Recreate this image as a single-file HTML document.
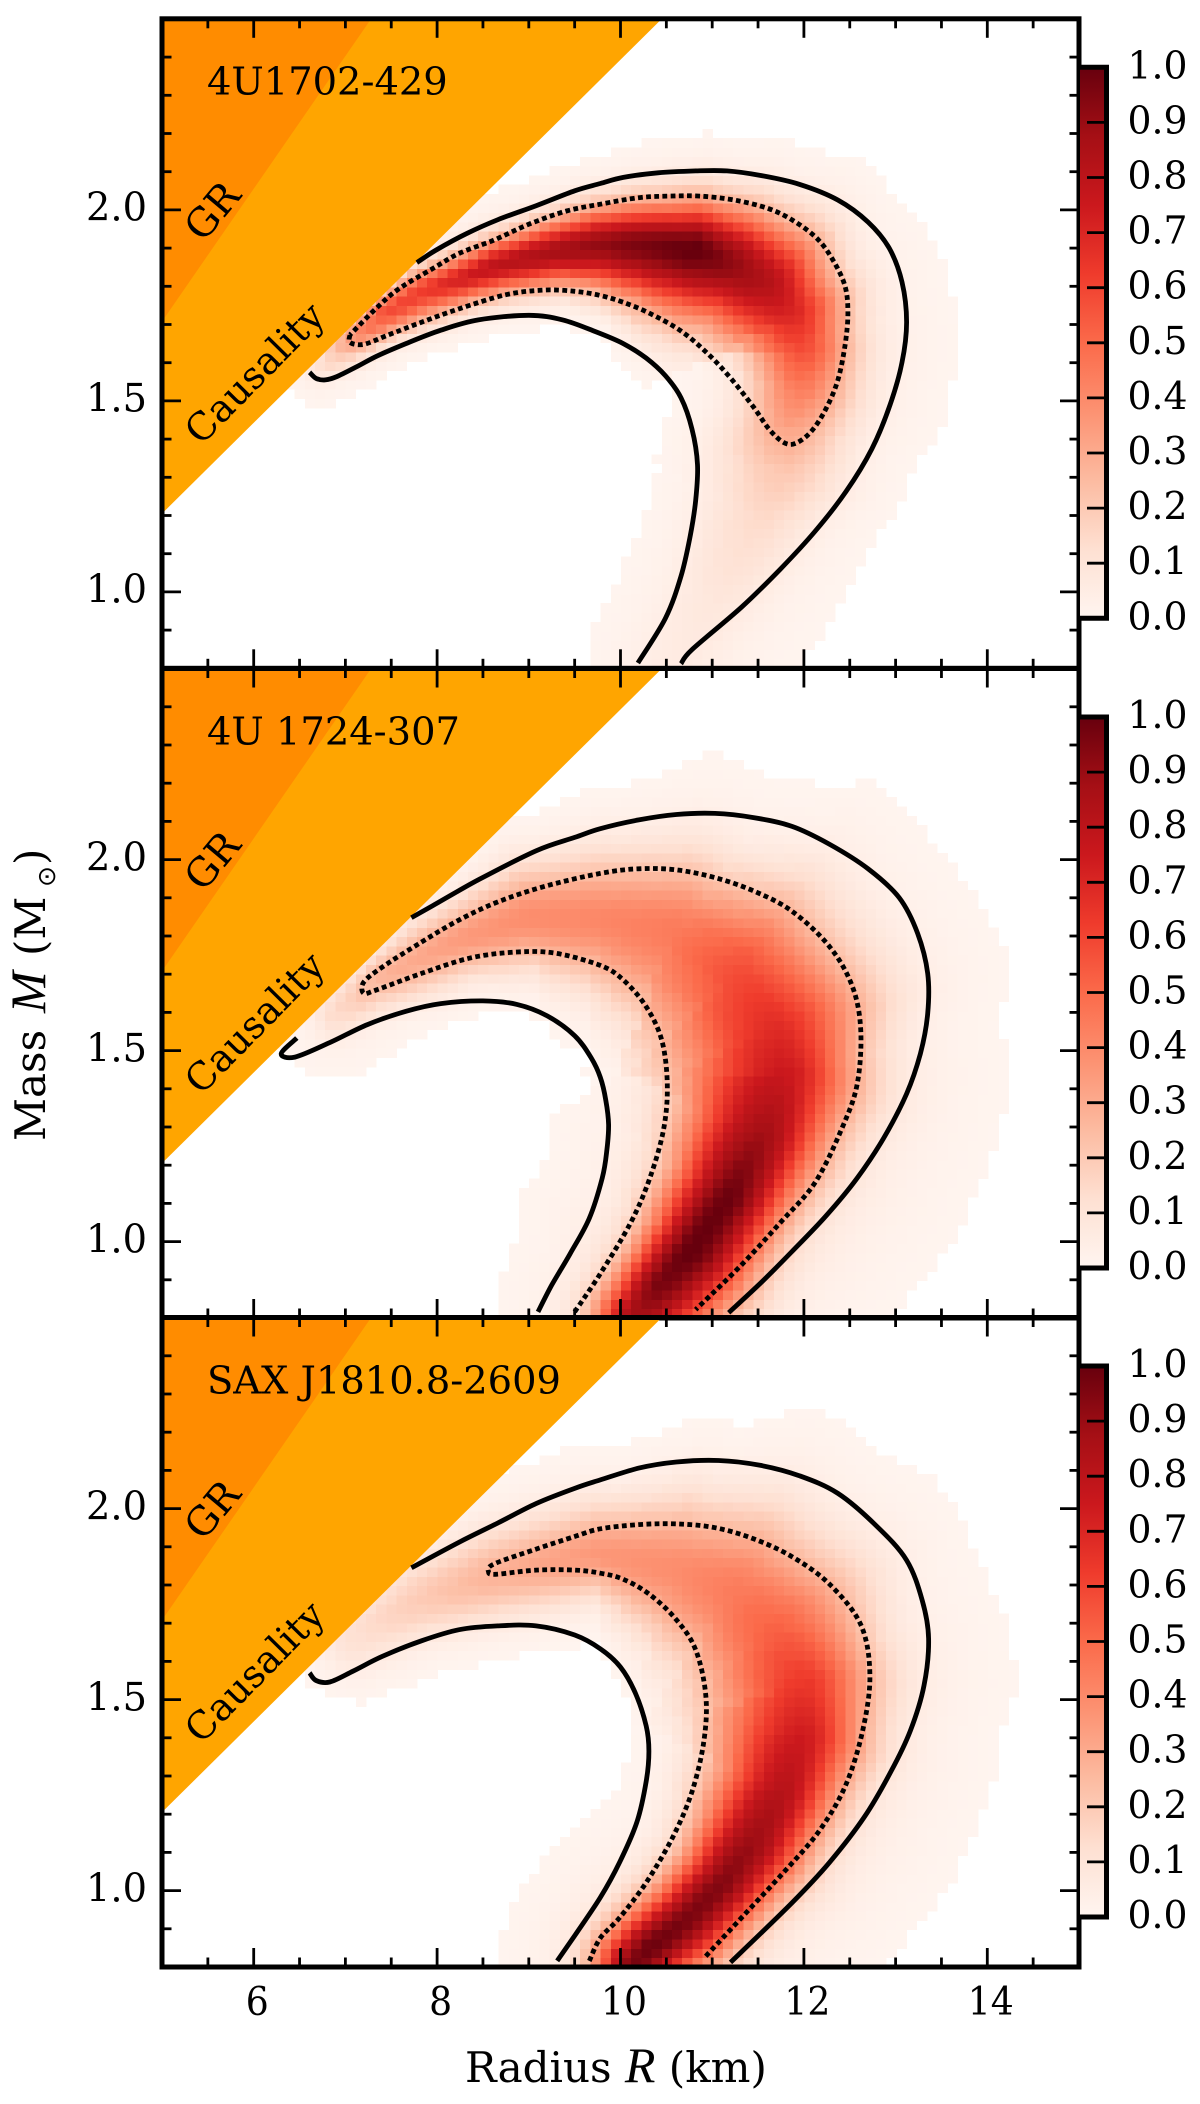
<!DOCTYPE html>
<html lang="en">
<head>
<meta charset="utf-8">
<title>Neutron star mass-radius posteriors</title>
<style>
html,body{margin:0;padding:0;background:#fff;}
svg{display:block;}
text{font-family:"DejaVu Serif","Liberation Serif",serif;fill:#000;}
</style>
</head>
<body>
<svg id="chart" xmlns="http://www.w3.org/2000/svg" width="1200" height="2104" viewBox="0 0 1200 2104">
<defs>
<linearGradient id="redsGradient" x1="0" y1="1" x2="0" y2="0">
<stop offset="0" stop-color="#fff5f0"/>
<stop offset="0.125" stop-color="#fee0d2"/>
<stop offset="0.25" stop-color="#fcbba1"/>
<stop offset="0.375" stop-color="#fc9272"/>
<stop offset="0.5" stop-color="#fb6a4a"/>
<stop offset="0.625" stop-color="#ef3b2c"/>
<stop offset="0.75" stop-color="#cb181d"/>
<stop offset="0.875" stop-color="#a50f15"/>
<stop offset="1" stop-color="#67000d"/>
</linearGradient>
</defs>
<text transform="translate(45,1141) rotate(-90)" font-size="42">Mass<tspan x="128" font-family="Liberation Serif" font-style="italic" font-size="50">M</tspan><tspan x="185">(M</tspan><tspan x="254" font-family="DejaVu Sans" font-size="25" dy="10">⊙</tspan><tspan x="276" dy="-10">)</tspan></text>
<text x="465" y="2082" font-size="42">Radius <tspan font-family="Liberation Serif" font-style="italic" font-size="50">R</tspan> (km)</text>
</svg>
<script>
// ---- shared axis data ----
const panelNames = ["4U1702-429", "4U 1724-307", "SAX J1810.8-2609"];
const radiusMajorTicks = [6, 8, 10, 12, 14];
const radiusMinorTicks = [5.5, 6.5, 7, 7.5, 8.5, 9, 9.5, 10.5, 11, 11.5, 12.5, 13, 13.5, 14.5];
const massMajorTicks = [1.0, 1.5, 2.0];
const massMinorTicks = [0.9, 1.1, 1.2, 1.3, 1.4, 1.6, 1.7, 1.8, 1.9, 2.1, 2.2, 2.3, 2.4];
const colorbarTicks = [0.0, 0.1, 0.2, 0.3, 0.4, 0.5, 0.6, 0.7, 0.8, 0.9, 1.0];
const causalityR = [5, 10.45];
const causalityM = [1.205, 2.5];
const grLimitR = [5, 7.28];
const grLimitM = [1.708, 2.5];

// ---- 4U 1702-429 ----
const p1SolidLowerR = [6.61,6.68,6.78,6.91,7.12,7.35,7.66,8.04,8.45,9.0,9.37,9.72,10.03,10.28,10.49,10.66,10.78,10.84,10.82,10.76,10.66,10.49,10.19];
const p1SolidLowerM = [1.575,1.559,1.555,1.564,1.589,1.618,1.650,1.685,1.712,1.724,1.712,1.682,1.650,1.612,1.566,1.508,1.426,1.333,1.240,1.146,1.041,.931,.814];
const p1SolidUpperR = [7.78,7.99,8.33,8.66,9.08,9.50,9.78,10.03,10.41,10.82,11.16,11.53,11.95,12.37,12.70,12.93,13.07,13.12,13.07,12.94,12.74,12.46,12.12,11.74,11.32,10.78,10.66];
const p1SolidUpperM = [1.862,1.895,1.939,1.974,2.011,2.050,2.069,2.085,2.097,2.102,2.102,2.090,2.067,2.026,1.968,1.900,1.811,1.706,1.601,1.490,1.374,1.263,1.158,1.059,.960,.849,.812];
const p1DottedR = [7.05,7.05,7.20,7.45,7.83,8.24,8.75,9.16,9.50,9.78,10.03,10.32,10.66,10.95,11.20,11.45,11.62,11.78,11.91,12.08,12.24,12.37,12.45,12.48,12.45,12.33,12.16,11.91,11.62,11.24,10.87,10.53,10.20,9.78,9.41,8.996,8.62,8.24,7.95,7.58,7.33,7.05];
const p1DottedM = [1.673,1.653,1.648,1.671,1.706,1.741,1.778,1.790,1.787,1.776,1.758,1.729,1.683,1.624,1.560,1.484,1.426,1.391,1.389,1.420,1.479,1.554,1.648,1.729,1.799,1.863,1.921,1.968,2.003,2.026,2.036,2.036,2.032,2.015,1.997,1.962,1.921,1.886,1.846,1.793,1.741,1.673];
const p1RidgeR = [6.75,7.41,7.83,8.24,8.66,9.29,9.78,10.2,10.82,11.24,11.62,11.87,11.99,11.95,11.83,11.74,11.55,11.0,10.6];
const p1RidgeM = [1.6,1.729,1.787,1.82,1.857,1.892,1.91,1.91,1.898,1.857,1.80,1.73,1.636,1.54,1.44,1.32,1.2,.97,.82];
const p1RidgePeak = [.1,.55,.6,.7,.78,.85,.9,.95,1,.9,.8,.68,.55,.42,.3,.18,.12,.06,.04];
const p1RidgeOuterKm = [.12,.11,.14,.15,.17,.21,.25,.28,.33,.39,.44,.37,.33,.35,.36,.40,.30,.27,.27];
const p1RidgeInnerKm = [.12,.16,.20,.18,.20,.23,.32,.41,.52,.46,.49,.48,.41,.33,.33,.47,.43,.33,.33];
const p1RidgeHaloKm = [.28,.29,.31,.33,.33,.33,.36,.43,.47,.55,.66,.72,.73,.7,.67,.6,.6,.65,.6];

// ---- 4U 1724-307 ----
const p2SolidLowerR = [6.47,6.30,6.45,6.83,7.24,7.66,8.04,8.50,8.87,9.20,9.50,9.68,9.78,9.84,9.87,9.85,9.80,9.66,9.45,9.25,9.10];
const p2SolidLowerM = [1.533,1.492,1.483,1.521,1.568,1.603,1.623,1.630,1.621,1.591,1.539,1.481,1.430,1.370,1.306,1.236,1.166,1.061,.968,.886,.816];
const p2SolidUpperR = [7.72,7.95,8.45,9.08,9.50,9.78,10.2,10.61,11.03,11.45,11.87,12.28,12.70,13.04,13.24,13.35,13.35,13.27,13.12,12.87,12.58,12.24,11.87,11.53,11.18];
const p2SolidUpperM = [1.848,1.879,1.947,2.023,2.058,2.081,2.104,2.118,2.121,2.110,2.087,2.040,1.976,1.900,1.807,1.702,1.597,1.492,1.387,1.271,1.166,1.067,.974,.892,.814];
const p2DottedR = [9.50,9.78,10.11,10.32,10.47,10.51,10.45,10.28,10.03,9.78,9.29,8.87,8.37,7.83,7.33,7.20,7.20,7.41,7.83,8.24,8.66,9.16,9.78,10.2,10.61,11.03,11.45,11.87,12.28,12.53,12.62,12.58,12.41,12.12,11.74,11.32,10.82];
const p2DottedM = [.816,.916,1.049,1.166,1.294,1.411,1.527,1.615,1.685,1.723,1.755,1.758,1.743,1.702,1.658,1.650,1.679,1.720,1.784,1.842,1.889,1.929,1.964,1.976,1.973,1.953,1.918,1.865,1.772,1.667,1.551,1.411,1.294,1.154,1.049,.939,.822];
const p2RidgeR = [6.9,7.41,7.83,8.24,9.0,9.78,10.61,11.24,11.66,11.78,11.57,11.2,10.78,10.41,10.16];
const p2RidgeM = [1.6,1.70,1.745,1.79,1.85,1.845,1.81,1.70,1.551,1.434,1.282,1.12,.98,.886,.805];
const p2RidgePeak = [.12,.25,.28,.32,.36,.38,.42,.55,.66,.74,.86,.98,1,.95,.85];
const p2RidgeOuterKm = [.13,.13,.22,.24,.35,.43,.5,.65,.63,.49,.41,.37,.42,.42,.38];
const p2RidgeInnerKm = [.15,.22,.24,.24,.35,.46,.71,.73,.76,.78,.57,.42,.34,.27,.27];
const p2RidgeHaloKm = [.36,.33,.33,.33,.41,.57,.84,1.08,1.1,1.0,.97,.9,.8,.73,.62];

// ---- SAX J1810.8-2609 ----
const p3SolidLowerR = [6.61,6.68,6.83,7.08,7.41,7.83,8.24,8.66,9.08,9.50,9.78,10.0,10.16,10.28,10.31,10.28,10.18,9.99,9.78,9.50,9.31];
const p3SolidLowerM = [1.570,1.550,1.546,1.574,1.614,1.654,1.683,1.693,1.693,1.669,1.633,1.585,1.518,1.431,1.365,1.286,1.180,1.074,.982,.882,.816];
const p3SolidUpperR = [7.72,8.24,8.66,9.08,9.50,9.78,10.2,10.61,11.07,11.53,11.95,12.37,12.79,13.12,13.29,13.36,13.31,13.16,12.95,12.66,12.28,11.87,11.2];
const p3SolidUpperM = [1.845,1.912,1.962,2.013,2.053,2.075,2.106,2.122,2.126,2.113,2.086,2.040,1.955,1.865,1.760,1.660,1.537,1.418,1.312,1.193,1.074,.968,.812];
const p3DottedR = [9.66,9.78,9.99,10.28,10.57,10.78,10.91,10.93,10.82,10.61,10.32,10.03,9.78,9.50,9.08,8.64,8.56,8.62,9.08,9.50,9.78,10.2,10.61,11.03,11.45,11.87,12.28,12.62,12.72,12.64,12.45,12.16,11.78,11.37,10.91];
const p3DottedM = [.816,.876,.929,1.021,1.140,1.259,1.392,1.511,1.630,1.709,1.775,1.815,1.831,1.839,1.839,1.828,1.835,1.855,1.894,1.927,1.947,1.958,1.960,1.950,1.921,1.874,1.802,1.696,1.564,1.418,1.273,1.154,1.048,.942,.823];
const p3RidgeR = [7.12,7.83,8.66,9.78,10.61,11.24,11.66,11.99,11.99,11.78,11.45,11.12,10.74,10.32,10.16];
const p3RidgeM = [1.67,1.762,1.828,1.881,1.841,1.775,1.67,1.537,1.405,1.26,1.127,1.021,.929,.85,.81];
const p3RidgePeak = [.1,.17,.25,.33,.36,.42,.5,.62,.72,.8,.88,.93,.95,.98,.95];
const p3RidgeOuterKm = [.22,.27,.30,.33,.5,.6,.63,.47,.41,.35,.36,.32,.32,.29,.29];
const p3RidgeInnerKm = [.24,.27,.28,.26,.54,.6,.67,.67,.67,.5,.41,.32,.29,.27,.27];
const p3RidgeHaloKm = [.42,.38,.46,.5,.68,.92,1.0,.97,.88,.85,.81,.77,.78,.78,.75];

const panels = [
 {bottom:668.3, innerHalo:.85, solidA:[p1SolidLowerR,p1SolidLowerM], solidB:[p1SolidUpperR,p1SolidUpperM], dotted:[p1DottedR,p1DottedM], ridge:[p1RidgeR,p1RidgeM,p1RidgePeak,p1RidgeOuterKm,p1RidgeInnerKm,p1RidgeHaloKm]},
 {bottom:1318, innerHalo:1, solidA:[p2SolidLowerR,p2SolidLowerM], solidB:[p2SolidUpperR,p2SolidUpperM], dotted:[p2DottedR,p2DottedM], ridge:[p2RidgeR,p2RidgeM,p2RidgePeak,p2RidgeOuterKm,p2RidgeInnerKm,p2RidgeHaloKm]},
 {bottom:1967, innerHalo:.8, solidA:[p3SolidLowerR,p3SolidLowerM], solidB:[p3SolidUpperR,p3SolidUpperM], dotted:[p3DottedR,p3DottedM], ridge:[p3RidgeR,p3RidgeM,p3RidgePeak,p3RidgeOuterKm,p3RidgeInnerKm,p3RidgeHaloKm]}
];

const NS = "http://www.w3.org/2000/svg";
const svg = document.getElementById("chart");
const PXKM = 91.7, PXM = 382, LEFT = 162, RIGHT = 1079, HEIGHT = 649.5;
const xAxis = r => LEFT + (r - 5) * PXKM;
const reds = ["#fff5f0","#fee0d2","#fcbba1","#fc9272","#fb6a4a","#ef3b2c","#cb181d","#a50f15","#67000d"];
function hex(c){return [1,3,5].map(i=>parseInt(c.substr(i,2),16));}
const redsRGB = reds.map(hex);
function colorOf(v){
  const t = Math.max(0,Math.min(1,v))*8, i = Math.min(7,Math.floor(t)), f = t-i;
  const a = redsRGB[i], b = redsRGB[i+1];
  return "rgb("+a.map((c,k)=>Math.round(c+(b[k]-c)*f)).join(",")+")";
}
function add(tag, attrs, parent){
  const el = document.createElementNS(NS, tag);
  for (const k in attrs) el.setAttribute(k, attrs[k]);
  parent.appendChild(el);
  return el;
}
function smoothPath(pts){
  let d = "M"+pts[0][0].toFixed(1)+" "+pts[0][1].toFixed(1);
  for (let i=0;i<pts.length-1;i++){
    const p0=pts[Math.max(0,i-1)],p1=pts[i],p2=pts[i+1],p3=pts[Math.min(pts.length-1,i+2)];
    d+=" C"+(p1[0]+(p2[0]-p0[0])/6).toFixed(1)+" "+(p1[1]+(p2[1]-p0[1])/6).toFixed(1)+" "+
       (p2[0]-(p3[0]-p1[0])/6).toFixed(1)+" "+(p2[1]-(p3[1]-p1[1])/6).toFixed(1)+" "+
       p2[0].toFixed(1)+" "+p2[1].toFixed(1);
  }
  return d;
}

panels.forEach((p, idx) => {
  const bottom = p.bottom, top = bottom - HEIGHT;
  const yAxis = m => bottom - (m - 0.8) * PXM;
  const clipId = "clip" + idx;
  const clip = add("clipPath", {id:clipId}, svg);
  add("rect", {x:LEFT, y:top, width:RIGHT-LEFT, height:HEIGHT}, clip);

  const g = add("g", {}, svg);
  
  

  // heat map cells from the ridge arrays
  const heat = add("g", {"clip-path":"url(#"+clipId+")","shape-rendering":"crispEdges"}, g);
  
  
  const [rr, rm, rp, ro, ri, rh] = p.ridge;
  const samples = [];
  for (let i=0;i<rr.length-1;i++){
    const x0=xAxis(rr[i]), y0=yAxis(rm[i]), x1=xAxis(rr[i+1]), y1=yAxis(rm[i+1]);
    const len=Math.hypot(x1-x0,y1-y0)||1, tx=(x1-x0)/len, ty=(y1-y0)/len;
    for (let s=0;s<=10;s++){
      const f=s/10;
      samples.push({x:x0+(x1-x0)*f,y:y0+(y1-y0)*f,tx,ty,peak:rp[i]+(rp[i+1]-rp[i])*f,
        so:(ro[i]+(ro[i+1]-ro[i])*f)*PXKM*1.1,si:(ri[i]+(ri[i+1]-ri[i])*f)*PXKM*1.1,
        halo:(rh[i]+(rh[i+1]-rh[i])*f)*PXKM});
    }
  }
  const cw=10.2, ch=9.3;
  for (let cy=bottom-ch;cy>top-ch;cy-=ch){
    for (let cx=LEFT;cx<RIGHT;cx+=cw){
      const px=cx+cw/2, py=cy+ch/2;
      let best=null,bd=1e18;
      for (const s of samples){
        const d=(px-s.x)*(px-s.x)+(py-s.y)*(py-s.y);
        if(d<bd){bd=d;best=s;}
      }
      // screen y grows downward: left-of-travel (outer side) normal
      const side=(px-best.x)*(best.ty)+(py-best.y)*(-best.tx);
      const sig=side>=0?best.so:best.si;
      const u=Math.sqrt(bd)/sig;
      const h=Math.sqrt(bd)/(best.halo*(side>=0?1:p.innerHalo));
      const v=best.peak*0.9*Math.exp(-0.5*u*u)+0.11*Math.sqrt(best.peak)*Math.exp(-0.5*h*h);
      if(v<0.005) continue;
      const cell=add("rect",{x:cx.toFixed(1),y:cy.toFixed(1),width:cw+0.4,height:ch+0.4,fill:colorOf(v)},heat);
      
      
    }
  }

  // excluded regions
  const causal=add("polygon",{fill:"#ffa500","clip-path":"url(#"+clipId+")",
    points:[[5,2.5],[causalityR[1],2.5],[causalityR[0],causalityM[0]]].map(q=>xAxis(q[0])+","+yAxis(q[1])).join(" ")},g);
  
  
  const gr=add("polygon",{fill:"#ff8c00","clip-path":"url(#"+clipId+")",
    points:[[5,2.5],[grLimitR[1],2.5],[grLimitR[0],grLimitM[0]]].map(q=>xAxis(q[0])+","+yAxis(q[1])).join(" ")},g);
  
  

  // contours
  const toPts=a=>a[0].map((r,i)=>[xAxis(r),yAxis(a[1][i])]);
  const solid1=add("path",{d:smoothPath(toPts(p.solidA)),fill:"none",stroke:"#000","stroke-width":4.8,"clip-path":"url(#"+clipId+")"},g);
  
  
  const solid2=add("path",{d:smoothPath(toPts(p.solidB)),fill:"none",stroke:"#000","stroke-width":4.8,"clip-path":"url(#"+clipId+")"},g);
  
  
  const dotted=add("path",{d:smoothPath(toPts(p.dotted)),fill:"none",stroke:"#000","stroke-width":4.8,"stroke-dasharray":"4.8 3.4","clip-path":"url(#"+clipId+")"},g);
  
  

  // ticks
  const tickAttrs={stroke:"#000","stroke-width":2.8};
  [[radiusMajorTicks,19],[radiusMinorTicks,9.5]].forEach(([ticks,len])=>{
    ticks.forEach(t=>{
      const a=add("line",Object.assign({x1:xAxis(t),x2:xAxis(t),y1:bottom,y2:bottom-len},tickAttrs),g);
      
      
      const b=add("line",Object.assign({x1:xAxis(t),x2:xAxis(t),y1:top,y2:top+len},tickAttrs),g);
      
      
    });
  });
  [[massMajorTicks,19],[massMinorTicks,9.5]].forEach(([ticks,len])=>{
    ticks.forEach(t=>{
      const a=add("line",Object.assign({x1:LEFT,x2:LEFT+len,y1:yAxis(t),y2:yAxis(t)},tickAttrs),g);
      
      
      const b=add("line",Object.assign({x1:RIGHT,x2:RIGHT-len,y1:yAxis(t),y2:yAxis(t)},tickAttrs),g);
      
      
    });
  });

  // frame
  const frame=add("rect",{x:LEFT,y:top,width:RIGHT-LEFT,height:HEIGHT,fill:"none",stroke:"#000","stroke-width":5},g);
  
  

  // y tick labels
  massMajorTicks.forEach(t=>{
    const l=add("text",{x:147,y:yAxis(t)+10.8,"font-size":39.5,"text-anchor":"end",textLength:61,lengthAdjust:"spacingAndGlyphs"},g);
    l.textContent=t.toFixed(1);
    
    
  });
  // x tick labels on the last panel only
  if(idx===panels.length-1){
    radiusMajorTicks.forEach(t=>{
      const s=String(t);
      const l=add("text",{x:xAxis(t)+3.5,y:bottom+48,"font-size":39.5,"text-anchor":"middle",textLength:s.length*23,lengthAdjust:"spacingAndGlyphs"},g);
      l.textContent=s;
      
      
    });
  }

  // annotations
  const title=add("text",{x:207,y:bottom-573.6,"font-size":38.4},g);
  title.textContent=panelNames[idx];
  
  
  const grText=add("text",{transform:"translate(203,"+(bottom-425)+") rotate(-50)","font-size":39.5},g);
  grText.textContent="GR";
  
  
  const cauText=add("text",{transform:"translate(201,"+(bottom-222)+") rotate(-45.5)","font-size":38},g);
  cauText.textContent="Causality";
  
  

  // colorbar
  const cbTop=bottom-601, cbBottom=bottom-50;
  const cb=add("g",{},g);
  
  
  const cbY=v=>cbBottom-(cbBottom-cbTop)*v;
  const fill=add("rect",{x:1080,y:cbTop,width:26.5,height:cbBottom-cbTop,fill:"url(#redsGradient)"},cb);
  
  
  colorbarTicks.forEach(v=>{
    if(v>0&&v<1){
      const t=add("line",{x1:1087,x2:1106,y1:cbY(v),y2:cbY(v),stroke:"#000","stroke-width":2.8},cb);
      
      
    }
    const l=add("text",{x:1127.5,y:cbY(v)+11,"font-size":38.5,textLength:60,lengthAdjust:"spacingAndGlyphs"},cb);
    l.textContent=v.toFixed(1);
    
    
  });
  const outline=add("path",{d:"M1079 "+cbTop+" H1106.5 V"+cbBottom+" H1079",fill:"none",stroke:"#000","stroke-width":5},cb);
  
  
});
</script>
</body>
</html>
